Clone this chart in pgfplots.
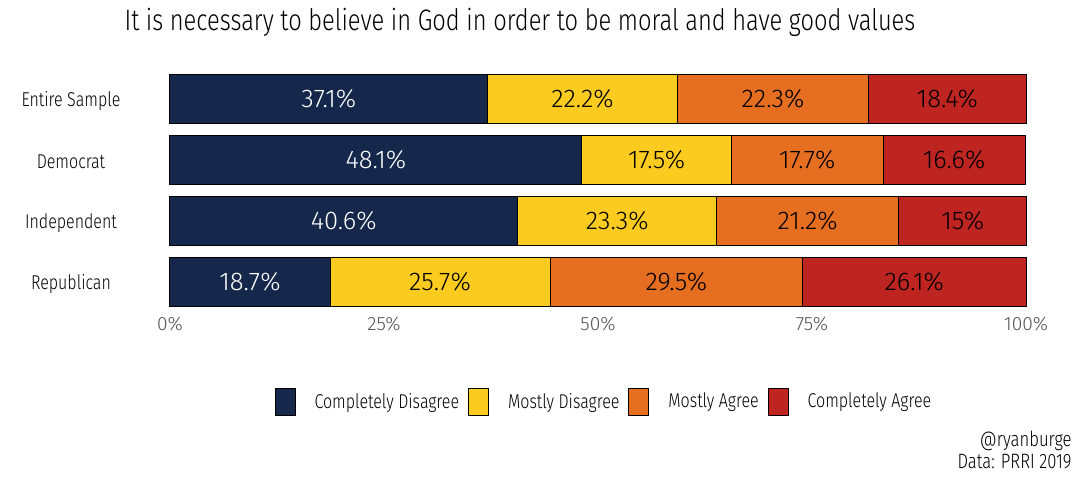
\documentclass[border=0pt]{standalone}
\usepackage{fontspec}
\setmainfont{Fira Sans}[UprightFont=* Light, FakeStretch=0.8]
\newfontfamily\numfont{Fira Sans}[UprightFont=* Light]
\usepackage{pgfplots}
\pgfplotsset{compat=1.18}
\definecolor{cnavy}{HTML}{15284B}
\definecolor{cyel}{HTML}{FCCB1F}
\definecolor{corg}{HTML}{E66E21}
\definecolor{cred}{HTML}{BF2520}
\begin{document}
\begin{tikzpicture}
\path[use as bounding box] (0,0) rectangle (540pt,240pt);
\node[anchor=base, inner sep=0pt, font=\fontsize{14.8}{16}\selectfont] at (260pt,224.5pt) {It is necessary to believe in God in order to be moral and have good values};
\node[anchor=base east, inner sep=0pt, font=\fontsize{10.4}{11}\selectfont] at (536pt,16.5pt) {@ryanburge};
\node[anchor=base east, inner sep=0pt, font=\fontsize{10.4}{11}\selectfont] at (536pt,5.5pt) {Data: PRRI 2019};
\begin{axis}[
  at={(85pt,83.6pt)}, anchor=south west,
  scale only axis, width=428pt, height=122.2pt,
  xbar stacked, bar width=24.3pt,
  xmin=0, xmax=100, ymin=-0.5, ymax=3.5, clip=false,
  axis line style={draw=none}, tick style={draw=none},
  xtick={0,25,50,75,100},
  xticklabel={\pgfmathprintnumber{\tick}\%},
  /pgf/number format/assume math mode=true,
  xticklabel style={text=black!68, font=\numfont\fontsize{9.6}{10}\selectfont, yshift=1.5pt},
  ytick={0,1,2,3},
  yticklabels={Republican,Independent,Democrat,Entire Sample},
  yticklabel style={anchor=center, xshift=-49.5pt, yshift=-0.8pt, font=\fontsize{10}{11}\selectfont},
  point meta=explicit symbolic,
  nodes near coords={\pgfplotspointmeta\%},
  every node near coord/.append style={anchor=center, font=\numfont\fontsize{12.8}{13}\selectfont},
  legend columns=4,
  legend style={at={(0.508,-0.365)}, anchor=center, draw=none, font=\fontsize{10}{11}\selectfont,
    /tikz/every odd column/.append style={column sep=7.5pt},
    /tikz/every even column/.append style={column sep=2.5pt}},
  legend image code/.code={\draw[#1, draw=black, line width=0.5pt] (0pt,-6.75pt) rectangle (10pt,6.75pt);},
]
\addplot[fill=cnavy, draw=black, line width=0.5pt, every node near coord/.append style={text=white}] coordinates {
 (37.1,3) [37.1] (48.1,2) [48.1] (40.6,1) [40.6] (18.7,0) [18.7]};
\addplot[fill=cyel, draw=black, line width=0.5pt, every node near coord/.append style={text=black}] coordinates {
 (22.2,3) [22.2] (17.5,2) [17.5] (23.3,1) [23.3] (25.7,0) [25.7]};
\addplot[fill=corg, draw=black, line width=0.5pt, every node near coord/.append style={text=black}] coordinates {
 (22.3,3) [22.3] (17.7,2) [17.7] (21.2,1) [21.2] (29.5,0) [29.5]};
\addplot[fill=cred, draw=black, line width=0.5pt, every node near coord/.append style={text=black}] coordinates {
 (18.4,3) [18.4] (16.6,2) [16.6] (15,1) [15] (26.1,0) [26.1]};
\legend{Completely Disagree, Mostly Disagree, Mostly Agree, Completely Agree}
\end{axis}
\end{tikzpicture}
\end{document}
